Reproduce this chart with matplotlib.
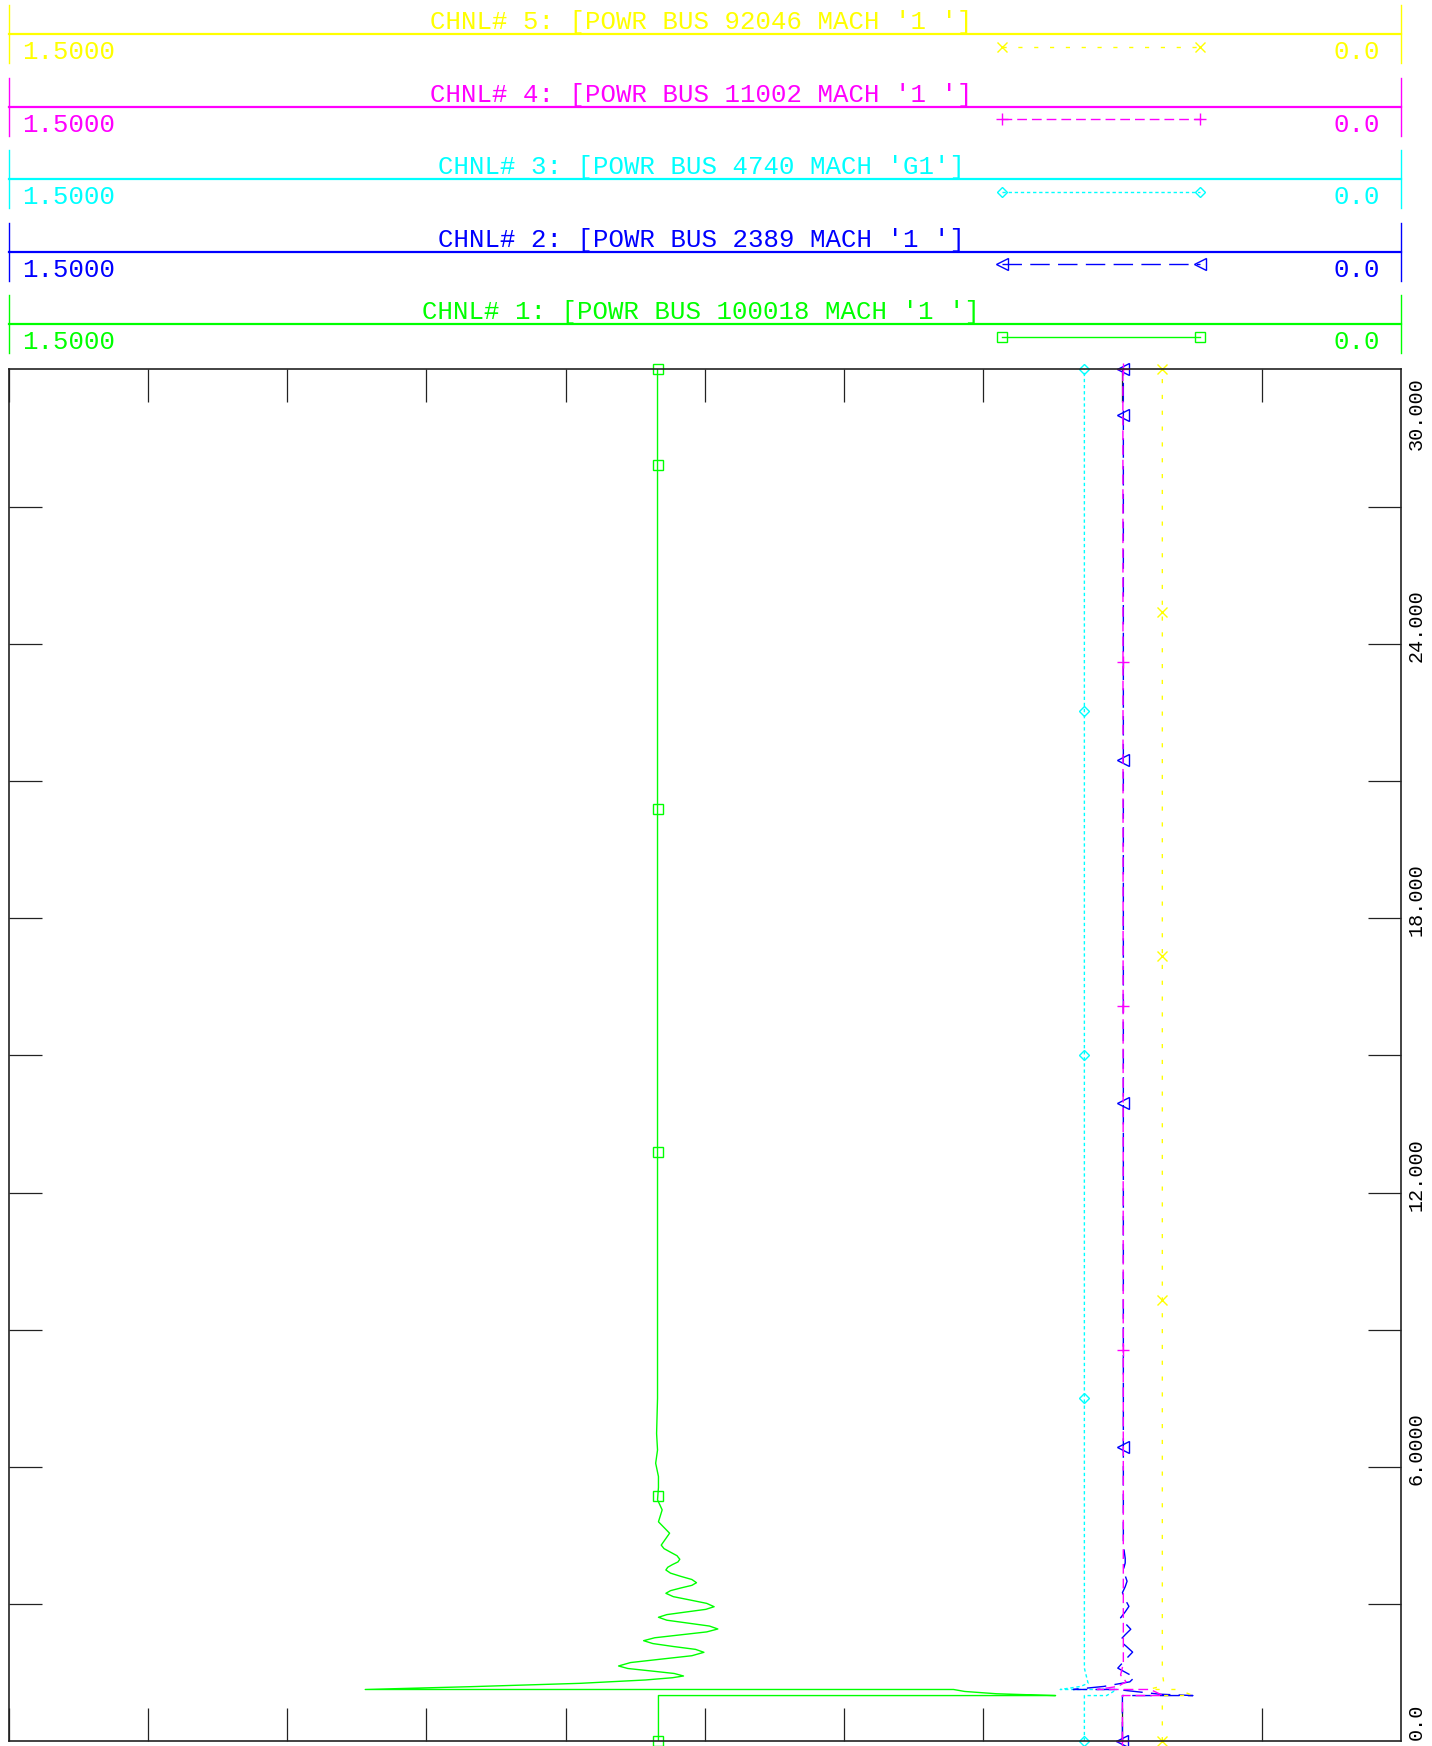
import matplotlib
matplotlib.use("Agg")
import matplotlib.pyplot as plt
import numpy as np

plt.rcParams["font.family"] = ["Liberation Mono", "DejaVu Sans Mono"]

W, H = 1432, 1746
DPI = 100

# plot frame in pixels (left, right, top, bottom)
PX_L, PX_R, PX_T, PX_B = 8.9, 1400.8, 369.3, 1741.3

# ---- channel headers, top to bottom ----
CHANNELS = [5, 4, 3, 2, 1]
TITLES = [
    "CHNL# 5: [POWR BUS 92046 MACH '1 ']",
    "CHNL# 4: [POWR BUS 11002 MACH '1 ']",
    "CHNL# 3: [POWR BUS 4740 MACH 'G1']",
    "CHNL# 2: [POWR BUS 2389 MACH '1 ']",
    "CHNL# 1: [POWR BUS 100018 MACH '1 ']",
]
VMAX_LABEL = "1.5000"
VMIN_LABEL = "0.0"
VMAX, VMIN = 1.5, 0.0

# time axis labels
T_LABELS = ["0.0", "6.0000", "12.000", "18.000", "24.000", "30.000"]
T_LABEL_POS = [0, 6, 12, 18, 24, 30]

# ---- channel data (time s, value) ----
ch1_t = [0.0, 1.0, 1.0, 1.02, 1.04, 1.09, 1.133, 1.133, 1.194, 1.268, 1.341, 1.39, 1.428,
         1.483, 1.538, 1.592, 1.647, 1.722, 1.797, 1.871, 1.946,
         2.010, 2.073, 2.137, 2.200, 2.264, 2.328, 2.392, 2.456,
         2.520, 2.584, 2.648, 2.712, 2.770, 2.828, 2.885, 2.943,
         3.016, 3.090, 3.163, 3.236, 3.294, 3.352, 3.410, 3.468,
         3.538, 3.607, 3.677, 3.746, 3.805, 3.863, 3.922, 3.980,
         4.058, 4.135, 4.213, 4.290, 4.420, 4.550, 4.675, 4.800,
         4.930, 5.060, 5.170, 5.280, 5.550, 5.790, 6.080, 6.370, 6.730, 7.500, 30.0]
ch1_v = [0.800, 0.800, 0.372, 0.405, 0.436, 0.470, 0.482, 1.116, 1.003, 0.884, 0.814, 0.785, 0.773,
         0.783, 0.808, 0.833, 0.843, 0.830, 0.797, 0.764, 0.751,
         0.760, 0.784, 0.806, 0.816, 0.804, 0.776, 0.748, 0.736,
         0.745, 0.768, 0.791, 0.800, 0.791, 0.770, 0.749, 0.740,
         0.748, 0.766, 0.784, 0.792, 0.787, 0.776, 0.764, 0.759,
         0.764, 0.776, 0.787, 0.792, 0.790, 0.785, 0.779, 0.777,
         0.780, 0.787, 0.794, 0.797, 0.7925, 0.788, 0.794, 0.800,
         0.798, 0.796, 0.7985, 0.801, 0.800, 0.800, 0.803, 0.801, 0.802, 0.801, 0.801]

ch2_t = [0.0, 1.0, 1.0, 1.03, 1.133, 1.133, 1.20, 1.30, 1.40, 1.50, 1.60, 1.78, 1.95,
         2.08, 2.20, 2.33, 2.45, 2.58, 2.70, 2.83, 2.95, 3.10, 3.25, 3.38, 3.50,
         3.62, 3.75, 3.90, 4.00, 4.30, 30.0]
ch2_v = [0.300, 0.300, 0.224, 0.260, 0.306, 0.353, 0.320, 0.292, 0.287, 0.296, 0.305, 0.297, 0.289,
         0.296, 0.303, 0.297, 0.291, 0.297, 0.302, 0.297, 0.293, 0.297, 0.300, 0.297, 0.295,
         0.297, 0.299, 0.297, 0.297, 0.299, 0.299]

ch3_t = [0.0, 1.0, 1.0, 1.133, 1.133, 1.20, 1.27, 1.60, 30.0]
ch3_v = [0.341, 0.341, 0.317, 0.306, 0.367, 0.345, 0.337, 0.341, 0.341]

ch4_t = [0.0, 1.0, 1.0, 1.133, 1.133, 1.20, 1.30, 1.45, 1.70, 30.0]
ch4_v = [0.300, 0.300, 0.256, 0.270, 0.327, 0.305, 0.296, 0.302, 0.299, 0.2995]

ch5_t = [0.0, 1.0, 1.0, 1.133, 1.133, 1.22, 1.50, 30.0]
ch5_v = [0.257, 0.257, 0.224, 0.240, 0.272, 0.255, 0.257, 0.257]

# marker times
ch1_mk = [0.0, 5.36, 12.88, 20.38, 27.90, 30.0]
ch2_mk = [0.0, 6.43, 13.95, 21.45, 29.00, 30.0]
ch3_mk = [0.0, 7.50, 15.00, 22.52, 30.0]
ch4_mk = [0.0, 8.55, 16.07, 23.59, 30.0]
ch5_mk = [0.0, 9.64, 17.17, 24.69, 30.0]

SERIES = {
    1: (ch1_t, ch1_v, ch1_mk),
    2: (ch2_t, ch2_v, ch2_mk),
    3: (ch3_t, ch3_v, ch3_mk),
    4: (ch4_t, ch4_v, ch4_mk),
    5: (ch5_t, ch5_v, ch5_mk),
}

STYLE = {
    1: dict(color="#00ff00", dashes=None, marker="s", ms=7),
    2: dict(color="#0000ff", dashes=(14, 6), marker="<", ms=8),
    3: dict(color="#00ffff", dashes=(2.4, 2.0), marker="D", ms=5.5),
    4: dict(color="#ff00ff", dashes=(7, 3.6), marker="+", ms=9),
    5: dict(color="#ffff00", dashes=(3, 8.4), marker="x", ms=7),
}


def marker_values(t, v, mk):
    # markers sit before the fault (t=0) or on the settled curve
    t = np.asarray(t)
    v = np.asarray(v)
    out = []
    for m in mk:
        if m < 1.0:
            out.append(v[0])
        else:
            late = t >= 4.0
            out.append(np.interp(m, t[late], v[late]) if late.sum() > 1 else v[-1])
    return out


def main():
    fig = plt.figure(figsize=(W / DPI, H / DPI), dpi=DPI)
    fig.patch.set_facecolor("white")

    # overlay in pixel coordinates for the header block
    hdr = fig.add_axes([0, 0, 1, 1])
    hdr.set_xlim(0, W)
    hdr.set_ylim(H, 0)
    hdr.axis("off")

    for i, (ch, title) in enumerate(zip(CHANNELS, TITLES)):
        st = STYLE[ch]
        c = st["color"]
        ly = 34.4 + 72.4 * i
        hdr.plot([PX_L, PX_L], [ly - 29, ly + 29], color=c, lw=1.0)
        hdr.plot([PX_R, PX_R], [ly - 29, ly + 29], color=c, lw=1.0)
        hdr.plot([PX_L, PX_R], [ly, ly], color=c, lw=1.6)
        hdr.text(701, ly - 12, title, color=c, fontsize=18.5, ha="center", va="center")
        hdr.text(22, ly + 18, VMAX_LABEL, color=c, fontsize=18.5, ha="left", va="center")
        hdr.text(1380, ly + 18, VMIN_LABEL, color=c, fontsize=18.5, ha="right", va="center")
        ln, = hdr.plot([1002, 1200], [ly + 12.5, ly + 12.5], color=c, lw=1.0,
                       marker=st["marker"], ms=st["ms"], mfc="none", mec=c, mew=1.0)
        if st["dashes"]:
            ln.set_dashes(st["dashes"])

    # main plot: value on the horizontal axis (1.5 -> 0), time upward
    ax = fig.add_axes([PX_L / W, 1 - PX_B / H, (PX_R - PX_L) / W, (PX_B - PX_T) / H])
    ax.set_xlim(VMAX, VMIN)
    ax.set_ylim(0, 30)
    ax.set_facecolor("none")

    for ch in [1, 3, 2, 4, 5]:
        t, v, mk = SERIES[ch]
        st = STYLE[ch]
        ln, = ax.plot(v, t, color=st["color"], lw=1.0)
        if st["dashes"]:
            ln.set_dashes(st["dashes"])
        ax.plot(marker_values(t, v, mk), mk, ls="none", marker=st["marker"], ms=st["ms"],
                mfc="none", mec=st["color"], mew=1.0, clip_on=False)

    ax.set_xticks(np.arange(0.15, 1.5, 0.15))
    ax.set_yticks(np.arange(3, 30, 3))
    ax.tick_params(axis="both", direction="in", length=24, width=0.9, color="#222222",
                   top=True, bottom=True, left=True, right=True,
                   labelbottom=False, labelleft=False, labeltop=False, labelright=False)
    for sp in ax.spines.values():
        sp.set_linewidth(1.2)
        sp.set_color("#222222")

    # rotated time labels on the right
    for lab, tv in zip(T_LABELS, T_LABEL_POS):
        py = PX_B - (PX_B - PX_T) * tv / 30.0
        if tv == 0:
            hdr.text(1416, py - 1, lab, rotation=90, fontsize=14.5, ha="center", va="bottom")
        elif tv == 30:
            hdr.text(1416, py + 8, lab, rotation=90, fontsize=14.5, ha="center", va="top")
        else:
            hdr.text(1416, py - 18, lab, rotation=90, fontsize=14.5, ha="center", va="center")

    fig.savefig("out.png", dpi=DPI)
    plt.close(fig)


if __name__ == "__main__":
    main()
